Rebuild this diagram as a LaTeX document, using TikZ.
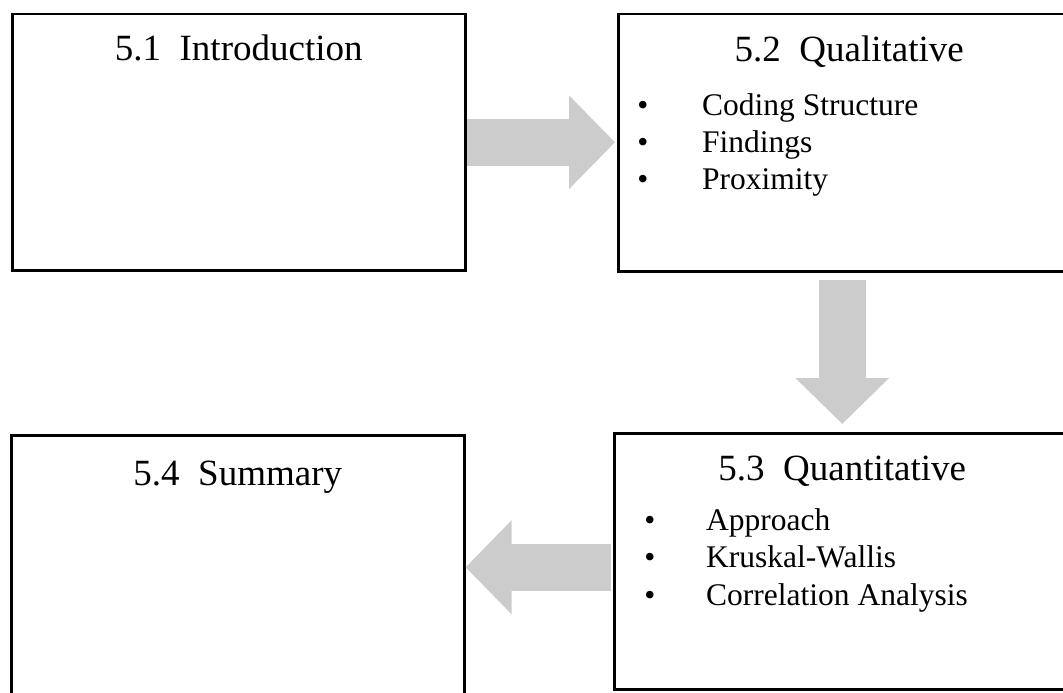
\documentclass[tikz,border=0pt]{standalone}
\usepackage{fontspec}
\setmainfont{Liberation Serif}
\usetikzlibrary{positioning, arrows.meta}
\definecolor{arrowgray}{HTML}{CCCCCC}

\begin{document}
\begin{tikzpicture}[x=1pt, y=-1pt,
    box/.style={draw, line width=2.5pt, rectangle, inner sep=0pt, anchor=north west},
    title/.style={anchor=base, inner sep=0pt, font=\fontsize{37}{44}\selectfont},
    item/.style={anchor=base west, inner sep=0pt, font=\fontsize{31.5}{37}\selectfont},
    dot/.style={anchor=base, inner sep=0pt, font=\fontsize{31.5}{37}\selectfont},
    blockarrow/.style={draw=arrowgray, line width=47pt,
        -{Triangle[length=46pt, width=91pt, fill=arrowgray]}}]
        \useasboundingbox (0,0) rectangle (1063,693);
        \clip (0,0) rectangle (1063,693);
        % the four boxes
        \node[box, minimum width=453pt, minimum height=256pt] (intro) at (11,13) {};
        \node[box, minimum width=462pt, minimum height=257pt] (qual) at (617,13) {};
        \node[box, minimum width=456pt, minimum height=256pt] (quant) at (613,432) {};
        \node[box, minimum width=453pt, minimum height=271pt] (summ) at (10,434) {};
        \node[title] (intro-t) at ([yshift=-48pt]intro.north) {5.1\hspace{.5em}Introduction};
        \node[title] (qual-t) at ([yshift=-49pt]qual.north) {5.2\hspace{.5em}Qualitative};
        \node[title] (quant-t) at ([yshift=-48pt]quant.north) {5.3\hspace{.5em}Quantitative};
        \node[title] (summ-t) at ([yshift=-51pt]summ.north) {5.4\hspace{.5em}Summary};
        % bullet lists
        \foreach \t [count=\i] in {Coding Structure, Findings, Proximity} {
            \node[dot] (qual-b\i) at ([xshift=26pt, yshift=-102pt-37pt*(\i-1)]qual.north west) {\textbullet};
            \node[item] (qual-i\i) at ([xshift=85pt, yshift=-102pt-37pt*(\i-1)]qual.north west) {\t};
        }
        \foreach \t [count=\i] in {Approach, Kruskal-Wallis, Correlation Analysis} {
            \node[dot] (quant-b\i) at ([xshift=37pt, yshift=-98pt-37.5pt*(\i-1)]quant.north west) {\textbullet};
            \node[item] (quant-i\i) at ([xshift=93pt, yshift=-98pt-37.5pt*(\i-1)]quant.north west) {\t};
        }
        % block arrows
        \draw[blockarrow, shorten >=2pt] (intro.east) -- (intro.east -| qual.west);
        \draw[blockarrow, shorten <=7pt, shorten >=8pt] (qual.south -| quant.north) -- (quant.north);
        \draw[blockarrow, shorten <=2pt] ([yshift=-6pt]quant.west) -- ([yshift=-6pt]quant.west -| summ.east);
    \end{tikzpicture}
\end{document}
